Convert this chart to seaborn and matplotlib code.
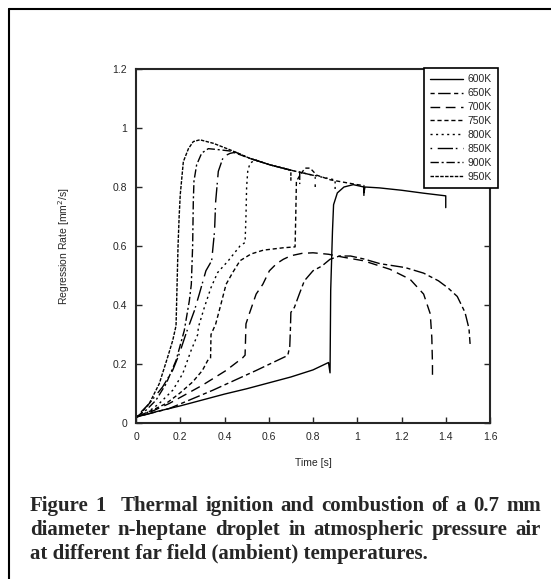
import re
import pandas as pd
import matplotlib
matplotlib.use("Agg")
import matplotlib.pyplot as plt
import seaborn as sns
from matplotlib.lines import Line2D
from matplotlib.ticker import FuncFormatter

#### Data (time [s], regression rate [mm^2/s])
t_600 = [0, 0.1, 0.2, 0.3, 0.4, 0.5, 0.6, 0.7, 0.8, 0.87, 0.877, 0.88, 0.888, 0.893,
         0.91, 0.94, 0.982, 1.03, 1.03, 1.035, 1.1, 1.2, 1.3, 1.4, 1.4]
r_600 = [0.02, 0.04, 0.058, 0.078, 0.098, 0.116, 0.136, 0.156, 0.18, 0.205, 0.17, 0.45, 0.65, 0.74,
         0.78, 0.80, 0.808, 0.80, 0.78, 0.80, 0.797, 0.789, 0.779, 0.77, 0.73]

t_650 = [0, 0.15, 0.347, 0.543, 0.686, 0.695, 0.698, 0.70, 0.716, 0.738, 0.761, 0.80, 0.84,
         0.877, 0.92, 0.97, 1.03, 1.103, 1.216, 1.30, 1.367, 1.41, 1.452, 1.487, 1.505, 1.51]
r_650 = [0.02, 0.049, 0.111, 0.178, 0.229, 0.26, 0.32, 0.375, 0.392, 0.437, 0.482, 0.516, 0.532,
         0.555, 0.566, 0.566, 0.556, 0.54, 0.527, 0.508, 0.482, 0.458, 0.429, 0.375, 0.32, 0.268]

t_700 = [0, 0.05, 0.15, 0.30, 0.407, 0.482, 0.493, 0.495, 0.497, 0.512, 0.543, 0.573, 0.603,
         0.635, 0.666, 0.70, 0.75, 0.80, 0.87, 0.937, 1.028, 1.148, 1.239, 1.30, 1.33, 1.337, 1.34, 1.34]
r_700 = [0.02, 0.032, 0.066, 0.128, 0.178, 0.221, 0.23, 0.28, 0.336, 0.37, 0.437, 0.47, 0.516,
         0.54, 0.555, 0.567, 0.575, 0.577, 0.572, 0.562, 0.55, 0.521, 0.487, 0.437, 0.37, 0.29, 0.2, 0.145]

t_750 = [0, 0.075, 0.136, 0.196, 0.256, 0.30, 0.324, 0.337, 0.339, 0.36, 0.384, 0.407, 0.437,
         0.47, 0.52, 0.576, 0.666, 0.719, 0.722, 0.725, 0.741, 0.764, 0.787, 0.817, 0.88, 1.0,
         1.03, 1.03]
r_750 = [0.02, 0.044, 0.066, 0.10, 0.139, 0.178, 0.212, 0.22, 0.30, 0.335, 0.403, 0.47, 0.51,
         0.55, 0.573, 0.586, 0.594, 0.597, 0.7, 0.819, 0.84, 0.864, 0.864, 0.84, 0.824, 0.808,
         0.805, 0.77]

t_800 = [0, 0.05, 0.105, 0.166, 0.211, 0.249, 0.279, 0.282, 0.309, 0.339, 0.369, 0.417, 0.47,
         0.493, 0.497, 0.50, 0.505, 0.515, 0.538, 0.606, 0.70, 0.80, 0.90, 0.90]
r_800 = [0.02, 0.035, 0.066, 0.111, 0.167, 0.246, 0.30, 0.325, 0.392, 0.459, 0.51, 0.55, 0.60,
         0.612, 0.7, 0.8, 0.853, 0.88, 0.892, 0.875, 0.857, 0.84, 0.824, 0.785]

t_850 = [0, 0.06, 0.12, 0.166, 0.196, 0.226, 0.264, 0.286, 0.316, 0.342, 0.355, 0.36, 0.372,
         0.395, 0.425, 0.45, 0.515, 0.606, 0.70, 0.81, 0.81]
r_850 = [0.02, 0.066, 0.122, 0.179, 0.235, 0.303, 0.381, 0.437, 0.516, 0.55, 0.65, 0.75, 0.853,
         0.903, 0.914, 0.918, 0.897, 0.875, 0.857, 0.838, 0.80]

t_900 = [0, 0.045, 0.09, 0.136, 0.181, 0.218, 0.241, 0.25, 0.256, 0.259, 0.262, 0.274, 0.297,
         0.327, 0.38, 0.425, 0.515, 0.606, 0.70, 0.74, 0.74]
r_900 = [0.02, 0.043, 0.077, 0.133, 0.212, 0.313, 0.414, 0.47, 0.6, 0.75, 0.82, 0.875, 0.915,
         0.93, 0.926, 0.922, 0.897, 0.875, 0.857, 0.85, 0.81]

t_950 = [0, 0.015, 0.06, 0.105, 0.143, 0.166, 0.181, 0.185, 0.19, 0.195, 0.20, 0.214, 0.237,
         0.259, 0.289, 0.35, 0.425, 0.515, 0.606, 0.70, 0.70]
r_950 = [0.02, 0.026, 0.066, 0.133, 0.223, 0.28, 0.33, 0.45, 0.60, 0.70, 0.774, 0.886, 0.93,
         0.954, 0.96, 0.948, 0.926, 0.897, 0.875, 0.857, 0.82]

labels = ["600K", "650K", "700K", "750K", "800K", "850K", "900K", "950K"]
times = [t_600, t_650, t_700, t_750, t_800, t_850, t_900, t_950]
rates = [r_600, r_650, r_700, r_750, r_800, r_850, r_900, r_950]

# line patterns roughly like the excel ones
patterns = ["-", (0, (3, 2.5, 9, 2.5)), (0, (7, 4)), (0, (3, 2)), (0, (1.5, 2.5)),
            (0, (1.2, 4, 11, 2)), (0, (6, 2, 1.5, 2)), (0, (2.5, 1))]

xticks = [0, 0.2, 0.4, 0.6, 0.8, 1.0, 1.2, 1.4, 1.6]
yticks = [0, 0.2, 0.4, 0.6, 0.8, 1.0, 1.2]

caption = ["Figure 1  Thermal ignition and combustion of a 0.7 mm",
           "diameter n-heptane droplet in atmospheric pressure air",
           "at different far field (ambient) temperatures."]

df = pd.concat([pd.DataFrame({"time": t, "rate": r, "temp": lab})
                for t, r, lab in zip(times, rates, labels)], ignore_index=True)

#### Plot
sns.set_style("ticks")
plt.rcParams['font.family'] = ['Liberation Sans', 'DejaVu Sans']

W, H = 551, 579
fig = plt.figure(figsize=(W / 100, H / 100), dpi=100)
ax = fig.add_axes([136 / W, 1 - 423 / H, 354 / W, 354 / H])

for lab, ls in zip(labels, patterns):
    sub = df[df.temp == lab]
    sns.lineplot(data=sub, x="time", y="rate", ax=ax, estimator=None, sort=False,
                 color="black", linewidth=1.0, linestyle=ls, label=lab)

ax.set_xlim(0, 1.6)
ax.set_ylim(0, 1.2)
ax.set_xticks(xticks)
ax.set_yticks(yticks)
fmt = FuncFormatter(lambda v, p: "{:g}".format(round(v, 2)))
ax.xaxis.set_major_formatter(fmt)
ax.yaxis.set_major_formatter(fmt)
ax.tick_params(direction="in", length=4, width=1, right=True, labelsize=7.5, pad=6.5)
for sp in ax.spines.values():
    sp.set_linewidth(1.5)
    sp.set_visible(True)

ax.set_xlabel("Time [s]", fontsize=7.5)
ax.set_ylabel("Regression Rate [mm$^2$/s]", fontsize=7.5)
ax.xaxis.set_label_coords(0.5, -(458 - 423) / 354)
ax.yaxis.set_label_coords((72 - 136) / 354, 0.5)

leg = ax.legend(loc="upper right", bbox_to_anchor=(498 / W, 1 - 68 / H),
                bbox_transform=fig.transFigure, frameon=True, fancybox=False,
                edgecolor="black", fontsize=7.5, handlelength=3.2, handletextpad=0.4,
                labelspacing=0.38, borderpad=0.6, borderaxespad=0)
leg.get_frame().set_linewidth(1.2)
leg.get_frame().set_alpha(1)

# caption, first two lines justified word by word like the word processor did
cap_left, cap_right = 30, 541
renderer = fig.canvas.get_renderer()
for i, line in enumerate(caption):
    y = 1 - (506 + 24 * i) / H
    kw = dict(fontsize=15, fontweight="bold", family=["Liberation Serif", "DejaVu Serif"],
              va="center", ha="left")
    if i == len(caption) - 1:
        fig.text(cap_left / W, y, line, **kw)
        continue
    words = line.split()
    gaps = [len(g) for g in re.findall(r" +", line)]
    txts = [fig.text(0, y, w, **kw) for w in words]
    widths = [t.get_window_extent(renderer).width for t in txts]
    unit = (cap_right - cap_left - sum(widths)) / sum(gaps)
    x = cap_left
    for j, t in enumerate(txts):
        t.set_x(x / W)
        x += widths[j] + (gaps[j] * unit if j < len(gaps) else 0)

# page frame (left and top edges)
fig.add_artist(Line2D([8.5 / W, 8.5 / W], [0, 1 - 8.5 / H], transform=fig.transFigure,
                      color="black", linewidth=1.5))
fig.add_artist(Line2D([8.5 / W, 1], [1 - 8.5 / H, 1 - 8.5 / H], transform=fig.transFigure,
                      color="black", linewidth=1.5))

plt.savefig("out.png", dpi=100)
